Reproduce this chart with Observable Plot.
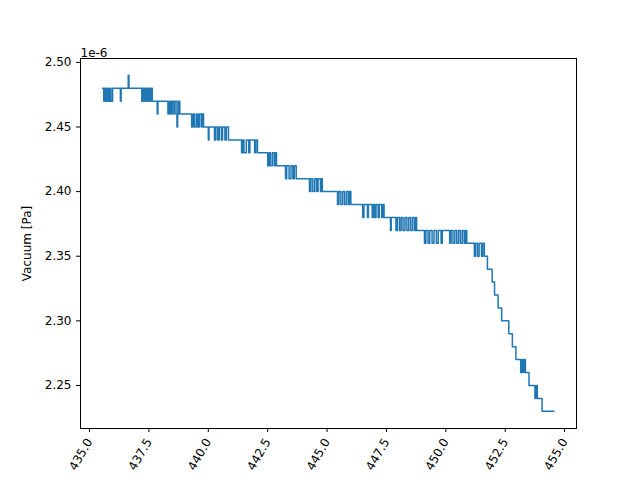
<!DOCTYPE html>
<html><head><meta charset="utf-8">
<script src="https://cdn.jsdelivr.net/npm/d3@7"></script>
<script src="https://cdn.jsdelivr.net/npm/@observablehq/plot@0.6"></script>
<style>body{margin:0;background:#fff}</style>
</head><body><div id="chart"></div>
<script>
// time values and vacuum (x 1e-6 Pa), step-after
const times = [435.55,435.6,435.65,435.7,435.75,435.8,435.86,435.9,435.97,
 436.3,436.33,436.63,436.66,
 437.2,437.25,437.3,437.36,437.42,437.47,437.53,437.58,437.64,
 437.85,437.88,
 438.3,438.36,438.42,438.48,438.55,438.6,438.68,438.71,438.75,438.8,
 439.3,439.36,439.42,439.5,439.56,439.62,439.7,439.75,439.8,
 440.0,440.03,
 440.26,440.32,440.4,440.46,440.55,440.6,440.7,440.76,440.85,
 441.4,441.45,441.5,441.6,441.7,441.75,441.95,442.0,442.07,
 442.5,442.56,442.62,442.7,442.78,442.82,442.87,
 443.25,443.3,443.4,443.48,443.56,443.62,443.7,
 444.26,444.32,444.4,444.48,444.56,444.62,444.72,444.76,444.8,
 445.44,445.5,445.58,445.66,445.74,445.82,445.9,445.95,446.0,
 446.5,446.55,446.7,446.74,446.9,446.95,447.0,447.06,447.15,447.2,447.3,447.34,447.4,
 447.67,447.7,
 447.9,447.96,448.05,448.12,448.2,448.28,448.36,448.44,448.52,448.6,448.68,448.72,448.77,
 449.1,449.16,449.25,449.32,449.42,449.5,449.6,449.68,449.8,449.85,
 450.16,450.22,450.3,450.38,450.46,450.54,450.62,450.7,450.78,450.83,450.88,
 451.2,451.25,451.33,451.4,451.5,451.55,451.62,451.75,451.95,452.05,452.2,452.35,452.65,452.8,452.95,
 453.15,453.2,453.25,453.3,453.35,453.5,453.75,453.8,453.85,454.05,454.55];
const values = [2.48,2.47,2.48,2.47,2.48,2.47,2.48,2.47,2.48,
 2.47,2.48,2.49,2.48,
 2.47,2.48,2.47,2.48,2.47,2.48,2.47,2.48,2.47,
 2.46,2.47,
 2.46,2.47,2.46,2.47,2.46,2.47,2.45,2.46,2.47,2.46,
 2.45,2.46,2.45,2.46,2.45,2.46,2.45,2.46,2.45,
 2.44,2.45,
 2.44,2.45,2.44,2.45,2.44,2.45,2.44,2.45,2.44,
 2.43,2.44,2.43,2.44,2.43,2.44,2.43,2.44,2.43,
 2.42,2.43,2.42,2.43,2.42,2.43,2.42,
 2.41,2.42,2.41,2.42,2.41,2.42,2.41,
 2.40,2.41,2.40,2.41,2.40,2.41,2.40,2.41,2.40,
 2.39,2.40,2.39,2.40,2.39,2.40,2.39,2.40,2.39,
 2.38,2.39,2.38,2.39,2.38,2.39,2.38,2.39,2.38,2.39,2.38,2.39,2.38,
 2.37,2.38,
 2.37,2.38,2.37,2.38,2.37,2.38,2.37,2.38,2.37,2.38,2.37,2.38,2.37,
 2.36,2.37,2.36,2.37,2.36,2.37,2.36,2.37,2.36,2.37,
 2.36,2.37,2.36,2.37,2.36,2.37,2.36,2.37,2.36,2.37,2.36,
 2.35,2.36,2.35,2.36,2.35,2.36,2.35,2.34,2.33,2.32,2.31,2.30,2.29,2.28,2.27,
 2.26,2.27,2.26,2.27,2.26,2.25,2.24,2.25,2.24,2.23,2.23];
const xTicks = [435,437.5,440,442.5,445,447.5,450,452.5,455];
const yTicks = [2.25,2.30,2.35,2.40,2.45,2.50];

const data = times.map((t, i) => ({t, v: values[i]}));

const chart = Plot.plot({
  width: 640, height: 480,
  marginLeft: 80, marginRight: 64, marginTop: 58, marginBottom: 52,
  style: {fontFamily: "DejaVu Sans", fontSize: "12px", color: "black"},
  x: {domain: [434.62, 455.5], ticks: xTicks, tickFormat: d => d.toFixed(1), tickRotate: -60, label: null, tickSize: 4},
  y: {domain: [2.2167, 2.503], ticks: yTicks, tickFormat: d => d.toFixed(2), label: "Vacuum [Pa]", labelAnchor: "center", labelArrow: "none", labelOffset: 58, tickSize: 4},
  marks: [
    Plot.line(data, {x: "t", y: "v", curve: "step-after", stroke: "#1f77b4", strokeWidth: 1.5}),
    Plot.frame({stroke: "black"}),
    Plot.text(["1e-6"], {frameAnchor: "top-left", dy: -10, textAnchor: "start", fontSize: 12})
  ]
});
document.getElementById("chart").append(chart);
</script></body></html>
